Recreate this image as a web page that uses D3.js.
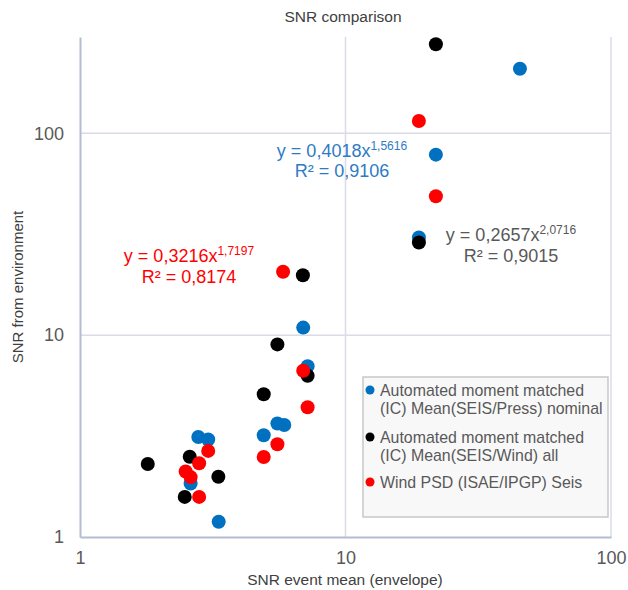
<!DOCTYPE html>
<html>
<head>
<meta charset="utf-8">
<script src="https://cdn.jsdelivr.net/npm/d3@7"></script>
<style>
  body { margin: 0; background: #fff; }
  text { font-family: "Liberation Sans", Arial, sans-serif; }
</style>
</head>
<body>
<script>
// values
var blueX = [45.4, 21.9, 18.9, 6.93, 7.2, 5.54, 5.88, 4.92, 2.79, 3.04, 2.61, 3.33];
var blueY = [209, 78.4, 30.5, 10.9, 7.02, 3.65, 3.59, 3.19, 3.13, 3.04, 1.84, 1.19];

var blackX = [21.9, 18.9, 6.91, 5.54, 7.2, 4.92, 2.59, 1.80, 3.32, 2.48];
var blackY = [276, 28.8, 19.8, 9.0, 6.29, 5.1, 2.50, 2.30, 1.99, 1.58];

var redX = [18.9, 21.9, 5.82, 6.93, 7.2, 5.54, 4.92, 3.04, 2.81, 2.50, 2.61, 2.81];
var redY = [115, 48.8, 20.6, 6.66, 4.39, 2.88, 2.49, 2.67, 2.32, 2.11, 1.98, 1.58];

var xTicks = [1, 10, 100];
var yTicks = [1, 10, 100];

var seriesNames = [
	["Automated moment matched", "(IC) Mean(SEIS/Press) nominal"],
	["Automated moment matched", "(IC) Mean(SEIS/Wind) all"],
	["Wind PSD (ISAE/IPGP) Seis"]
];
var seriesColors = ["#0070c0", "#000000", "#ff0000"];

// trendline labels: coefficient, exponent, r squared
var fitA = ["0,4018", "0,2657", "0,3216"];
var fitB = ["1,5616", "2,0716", "1,7197"];
var fitR2 = ["0,9106", "0,9015", "0,8174"];
var fitColors = ["#2e7bc4", "#595959", "#ff0000"];

var chart = {
	width: 628,
	height: 590,
	left: 80,
	right: 611,
	top: 37,
	bottom: 537
};

var svg = d3.select("body")
	.append("svg")
	.attr("width", chart.width)
	.attr("height", chart.height);

var x = d3.scaleLog().domain([1, 100]).range([chart.left, chart.right]);
var y = d3.scaleLog().domain([1, 300]).range([chart.bottom, chart.top]);

function zip(xs, ys){
	return xs.map(function(v, i){ return {x: v, y: ys[i]}; });
}
var series = [zip(blueX, blueY), zip(blackX, blackY), zip(redX, redY)];

// gridlines
svg.selectAll(".vgrid")
	.data(xTicks.slice(1))
	.enter()
	.append("line")
	.attr("x1", function(d){ return x(d); })
	.attr("x2", function(d){ return x(d); })
	.attr("y1", chart.top)
	.attr("y2", chart.bottom)
	.attr("stroke", "#d9dce6")
	.attr("stroke-width", 1.5);

svg.selectAll(".hgrid")
	.data(yTicks.slice(1))
	.enter()
	.append("line")
	.attr("x1", chart.left)
	.attr("x2", chart.right)
	.attr("y1", function(d){ return y(d); })
	.attr("y2", function(d){ return y(d); })
	.attr("stroke", "#d9dce6")
	.attr("stroke-width", 1.5);

// axes
var xAxis = d3.axisBottom(x).tickValues(xTicks).tickFormat(d3.format("d")).tickSize(0).tickPadding(14);
var yAxis = d3.axisLeft(y).tickValues(yTicks).tickFormat(d3.format("d")).tickSize(0).tickPadding(16);

var gx = svg.append("g")
	.attr("transform", "translate(0," + chart.bottom + ")")
	.call(xAxis);
var gy = svg.append("g")
	.attr("transform", "translate(" + chart.left + ",0)")
	.call(yAxis);

[gx, gy].forEach(function(g){
	g.select(".domain").attr("stroke", "#b4bcd2").attr("stroke-width", 2);
	g.selectAll("text")
		.attr("fill", "#595959")
		.style("font-size", "18px")
		.style("font-family", "'Liberation Sans', Arial, sans-serif");
});

// points, blue first, red on top
svg.selectAll(".series")
	.data(series)
	.enter()
	.append("g")
	.attr("fill", function(d, i){ return seriesColors[i]; })
	.selectAll("circle")
	.data(function(d){ return d; })
	.enter()
	.append("circle")
	.attr("cx", function(d){ return x(d.x); })
	.attr("cy", function(d){ return y(d.y); })
	.attr("r", 7);

// trendline equations
var fitPos = [[342, 157, 177], [511, 241, 262], [189, 262, 283]];
fitA.forEach(function(a, i){
	var p = fitPos[i];
	var eq = svg.append("text")
		.attr("x", p[0])
		.attr("y", p[1])
		.attr("text-anchor", "middle")
		.attr("fill", fitColors[i])
		.style("font-size", "18px");
	eq.append("tspan").text("y = " + a + "x");
	eq.append("tspan")
		.attr("dy", -7)
		.style("font-size", "12px")
		.text(fitB[i]);
	svg.append("text")
		.attr("x", p[0])
		.attr("y", p[2])
		.attr("text-anchor", "middle")
		.attr("fill", fitColors[i])
		.style("font-size", "18px")
		.text("R² = " + fitR2[i]);
});

// legend
var legend = svg.append("g");
legend.append("rect")
	.attr("x", 363)
	.attr("y", 377)
	.attr("width", 245)
	.attr("height", 140)
	.attr("fill", "#f8f8f8")
	.attr("stroke", "#c8c8c8")
	.attr("stroke-width", 1.5);

var legendTop = [396, 443, 488];
seriesNames.forEach(function(lines, i){
	legend.append("circle")
		.attr("cx", 370)
		.attr("cy", legendTop[i] - 6)
		.attr("r", 4.5)
		.attr("fill", seriesColors[i]);
	lines.forEach(function(line, j){
		legend.append("text")
			.attr("x", 380)
			.attr("y", legendTop[i] + j * 18)
			.attr("fill", "#595959")
			.style("font-size", "15.9px")
			.text(line);
	});
});

// titles
svg.append("text")
	.attr("x", 343)
	.attr("y", 22)
	.attr("text-anchor", "middle")
	.attr("fill", "#404040")
	.style("font-size", "15.5px")
	.text("SNR comparison");

svg.append("text")
	.attr("x", 345)
	.attr("y", 585)
	.attr("text-anchor", "middle")
	.attr("fill", "#404040")
	.style("font-size", "15.5px")
	.text("SNR event mean (envelope)");

svg.append("text")
	.attr("transform", "translate(23,287) rotate(-90)")
	.attr("text-anchor", "middle")
	.attr("fill", "#404040")
	.style("font-size", "15px")
	.text("SNR from environment");
</script>
</body>
</html>
